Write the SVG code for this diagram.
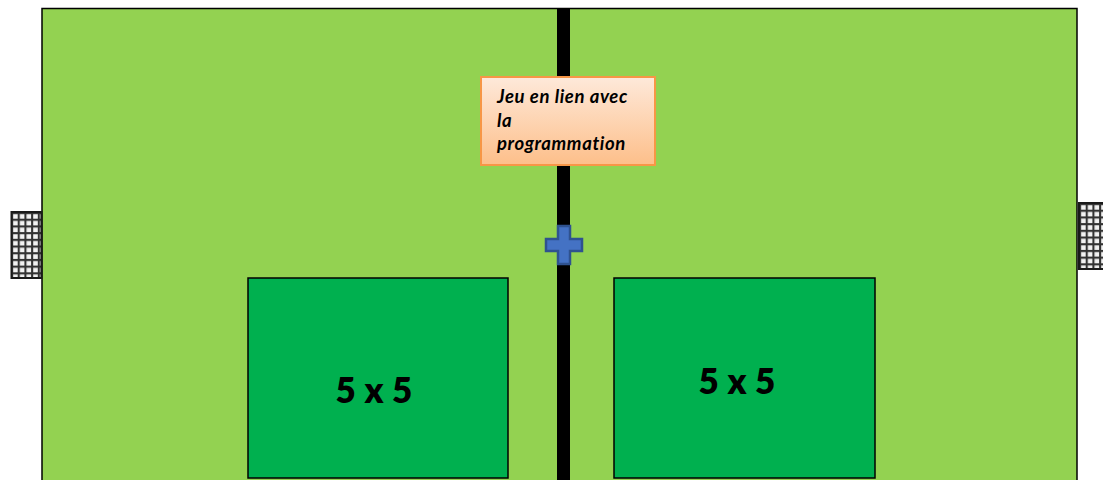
<svg xmlns="http://www.w3.org/2000/svg" width="1103" height="480" viewBox="0 0 1103 480">
<style>
.zone{fill:#00b04f;stroke:#000;stroke-width:1.5}
.big{font:800 35px Lato,"Open Sans",sans-serif;fill:#000;text-anchor:middle;letter-spacing:.2px}
.note{font:italic 700 18.500px Lato,"Open Sans",sans-serif;fill:#000;letter-spacing:.6px}
.frame{fill:none;stroke:#1a1a1a;stroke-width:2}
</style>
<defs>
<pattern id="meshL" x="11" y="212" width="6.700" height="6.700" patternUnits="userSpaceOnUse">
<rect width="6.700" height="6.700" fill="#f2f2f2"/>
<path d="M0 1H6.700M1 0V6.700" stroke="#333" stroke-width="2.200" fill="none"/>
</pattern>
<pattern id="meshR" x="1079" y="203" width="6.700" height="6.700" patternUnits="userSpaceOnUse">
<rect width="6.700" height="6.700" fill="#f2f2f2"/>
<path d="M0 1H6.700M1 0V6.700" stroke="#333" stroke-width="2.200" fill="none"/>
</pattern>
<linearGradient id="noteFill" x1="0" y1="0" x2="0" y2="1">
<stop offset="0" stop-color="#fee9da"/>
<stop offset="1" stop-color="#fdbf8a"/>
</linearGradient>
</defs>
<rect width="1103" height="480" fill="#fff"/>
<g id="field">
<rect x="42" y="8.500" width="1035" height="480" fill="#93d251" stroke="#000" stroke-width="1.500"/>
</g>
<g id="center-line">
<rect x="557" y="8" width="13" height="472" fill="#000"/>
</g>
<g id="goal-left">
<rect x="11.500" y="212" width="30" height="66" fill="url(#meshL)"/>
<rect x="11.500" y="212" width="30" height="66" class="frame"/>
</g>
<g id="goal-right">
<rect x="1079" y="203" width="24" height="66" fill="url(#meshR)"/>
<path d="M1103 203H1079V269H1103" class="frame"/>
</g>
<g id="zone-left">
<rect x="248" y="278" width="260" height="200" class="zone"/>
<text x="374" y="403" class="big">5 x 5</text>
</g>
<g id="zone-right">
<rect x="614" y="278" width="261" height="200" class="zone"/>
<text x="737" y="394" class="big">5 x 5</text>
</g>
<g id="note">
<rect x="481" y="77" width="174" height="88" fill="url(#noteFill)" stroke="#f79646" stroke-width="2"/>
<text x="497" y="103" class="note">Jeu en lien avec</text>
<text x="497" y="127" class="note">la</text>
<text x="497" y="150" class="note">programmation</text>
</g>
<g id="cross">
<path d="M558 226H570V239H582V251H570V264H558V251H546V239H558Z" fill="#4472c4" stroke="#2f528f" stroke-width="2.500"/>
</g>
<g id="connectors"></g>
</svg>
